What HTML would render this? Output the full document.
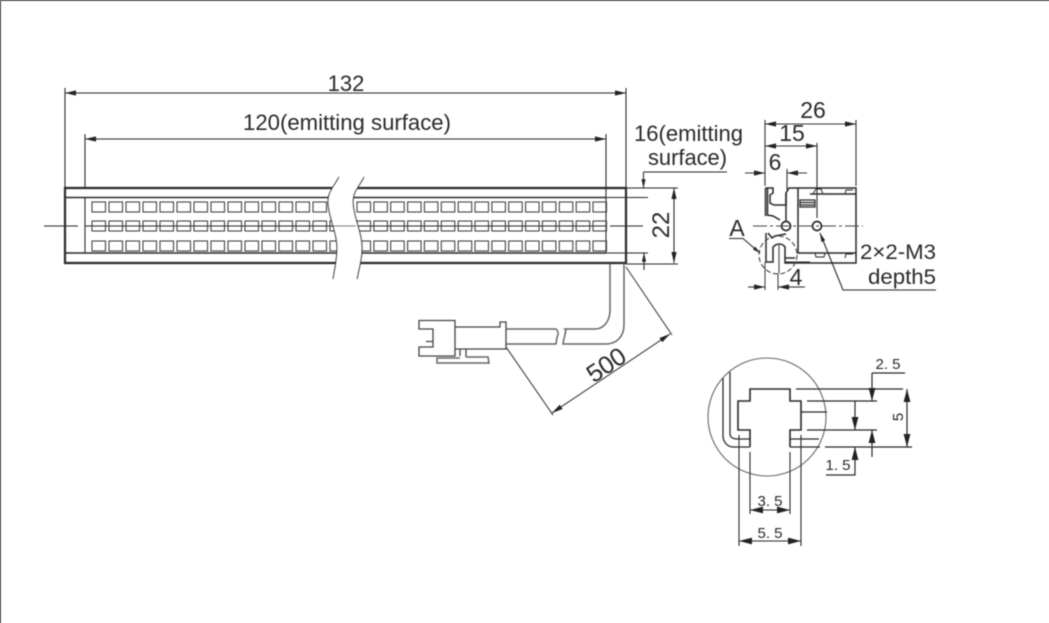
<!DOCTYPE html>
<html><head><meta charset="utf-8"><style>
html,body{margin:0;padding:0;background:#fff;width:1049px;height:623px;overflow:hidden}
svg{display:block}
text{font-family:"Liberation Sans",sans-serif;fill:#2b2b2b}
</style></head><body>
<svg width="1049" height="623" viewBox="0 0 1049 623" xmlns="http://www.w3.org/2000/svg">
<defs>
<filter id="b" x="-5%" y="-5%" width="110%" height="110%"><feGaussianBlur stdDeviation="0.5"/></filter>
<g id="ah"><path d="M0 0L-11 -2.6L-11 2.6Z" fill="#222" stroke="none"/></g>
<g id="ah2"><path d="M0 0L-13 -3.4L-13 3.4Z" fill="#222" stroke="none"/></g>
<g id="cell"><rect x="0" y="0" width="13.5" height="10"/></g>
<g id="rowL">
<use href="#cell" x="92"/><use href="#cell" x="109"/><use href="#cell" x="126"/><use href="#cell" x="143"/><use href="#cell" x="160"/><use href="#cell" x="177"/><use href="#cell" x="194"/><use href="#cell" x="211"/><use href="#cell" x="228"/><use href="#cell" x="245"/><use href="#cell" x="262"/><use href="#cell" x="279"/><use href="#cell" x="296"/><use href="#cell" x="313"/><use href="#cell" x="330"/>
</g>
<g id="rowR">
<use href="#cell" x="357"/><use href="#cell" x="373.9"/><use href="#cell" x="390.7"/><use href="#cell" x="407.6"/><use href="#cell" x="424.4"/><use href="#cell" x="441.3"/><use href="#cell" x="458.2"/><use href="#cell" x="475"/><use href="#cell" x="491.9"/><use href="#cell" x="508.7"/><use href="#cell" x="525.6"/><use href="#cell" x="542.4"/><use href="#cell" x="559.3"/><use href="#cell" x="576.2"/><use href="#cell" x="593"/>
</g>
</defs>
<path d="M0.6 623V0.6H1049" fill="none" stroke="#777" stroke-width="1.3"/>
<g filter="url(#b)" fill="none" stroke="#2a2a2a" stroke-width="1.1">

<!-- main bar -->
<path d="M65 188H626V263H65Z" stroke-width="2.2"/>
<path d="M65 197.500H606M65 253H606" stroke-width="1.500"/>
<path d="M606 188V253M85 197.500V253" stroke-width="1.100"/>
<g stroke-width="1.100" stroke="#444">
<use href="#rowL" y="202"/><use href="#rowL" y="221"/><use href="#rowL" y="241"/>
<use href="#rowR" y="202"/><use href="#rowR" y="221"/><use href="#rowR" y="241"/>
</g>
<path d="M44 226H78M85 226H606M610 226H643" stroke-width="1.100"/>
<path d="M339 177C333 188 328 192 328 202C328 216 337 232 337 248C337 260 335 268 333 279L357 279C359 268 362 260 362 248C362 232 353 216 353 202C353 192 358 188 364 177Z" fill="#fff" stroke="none"/>
<path d="M339 177C333 188 328 192 328 202C328 216 337 232 337 248C337 260 335 268 333 279"/>
<path d="M364 177C358 188 353 192 353 202C353 216 362 232 362 248C362 260 359 268 357 279"/>
<path d="M332 226H356"/>

<!-- dims 132 / 120 -->
<path d="M65 88V188M626 88V188M65 93H626M85 134V188M606 134V188M85 139H606"/>
<use href="#ah" transform="translate(65 93) rotate(180)"/><use href="#ah" transform="translate(626 93)"/>
<use href="#ah" transform="translate(85 139) rotate(180)"/><use href="#ah" transform="translate(606 139)"/>

<!-- dim 22 / 16 -->
<path d="M626 188H678M626 264H678M606 197.500H648M606 253H648M674 188V263M643.500 172V188M727 172H643.500M644 253V270"/>
<use href="#ah" transform="translate(674 188) rotate(-90)"/><use href="#ah" transform="translate(674 263) rotate(90)"/>
<use href="#ah" transform="translate(643.500 188) rotate(90) scale(.8)"/><use href="#ah" transform="translate(644 253) rotate(-90) scale(.8)"/>

<!-- end view -->
<path d="M765 120V186M856 120V186M817 143V218M787 169V190M765 124H856M765 146H817M745 173H765M787 173H807" stroke="#333"/>
<use href="#ah" transform="translate(765 124) rotate(180)"/><use href="#ah" transform="translate(856 124)"/>
<use href="#ah" transform="translate(765 146) rotate(180)"/><use href="#ah" transform="translate(817 146)"/>
<use href="#ah" transform="translate(765 173)"/><use href="#ah" transform="translate(787 173) rotate(180)"/>
<g stroke-width="1.500">
<path d="M765.500 188H773V193L770 195V203L774 205H786V193L789 188H856V263H785V258H795"/>
<path d="M765.500 188V216M767.500 188V216M767 215L773 216L780 220M766 233V262H773V247C777 243 782 243 785 247V258"/>
<path d="M768 233L772 238L775 236L786 234"/>
<path d="M786 193V222M798 188V253H856M810 194H856"/>
<path d="M800 200H815V207H800ZM800 202.500H815M800 205H815" stroke-width="1.200"/>
<path d="M813 194L816 189H821L823 194M815 253L816 257H824L825 253M845 194L846 190H853M845 258L846 254H853M785 262H810" stroke-width="1"/>
</g>
<path d="M765 262V290M779 245V273M778 273V290" stroke="#444"/>
<circle cx="786" cy="226" r="4.500" stroke-width="1.700"/>
<circle cx="817" cy="226" r="4.500" stroke-width="1.700"/>
<path d="M753 226H863" stroke-dasharray="14 3 3 3" stroke="#444"/>
<circle cx="778" cy="255" r="19" stroke-dasharray="5 2.500" stroke="#444"/>
<path d="M729 238.500H743L760 253"/>
<use href="#ah" transform="translate(760 253) rotate(40) scale(.7)"/>
<path d="M748 287H765M778 287H805"/>
<use href="#ah" transform="translate(765 287)"/><use href="#ah" transform="translate(778 287) rotate(180)"/>
<path d="M820 233L843 290H936"/>
<use href="#ah" transform="translate(820 233) rotate(248) scale(.8)"/>

<!-- cable -->
<path d="M610 264V310C610 322 603 329 595 329H565C567 331 564 336 563 344H606C616 344 624 337 624 325V264" stroke-width="1.500" stroke="#666"/>
<path d="M506 329H556C558 331 559 334 557 337L556 344H506" stroke-width="1.500" stroke="#666"/>
<path d="M419 320.500H455V356H419V347H433V329H419ZM455 327H500V322H506V349H455M460 349V356M466 349V357M426 341.500H433" stroke-width="1.300" stroke="#444"/>
<path d="M466 357H488L489 363H437V358H460" stroke="#666" stroke-width="1.500"/>
<path d="M626 267L672 335M506 347L553 415M552 413L670 334" stroke="#444"/>
<use href="#ah" transform="translate(552 413) rotate(146)"/><use href="#ah" transform="translate(670 334) rotate(-34)"/>

<!-- detail -->
<circle cx="767" cy="417" r="59" stroke="#666"/>
<path d="M750 447V430H738V401H750V389H790V401H801V430H790V447" stroke-width="1.600"/>
<path d="M801 412H827M790 439H819M790 447H820M723 378V436C723 441 727 447 733 447H750M730 372V434C730 437 733 439 737 439H750" stroke-width="1.300"/>
<path d="M796 389H903M807 401H877M807 430H877M825 447H912M907 389V447M872 373V401M872 430V457M872 373H905M855 401V430M855 447V475H826" stroke="#2a2a2a" stroke-width="1.200"/>
<use href="#ah2" transform="translate(907 389) rotate(-90)"/><use href="#ah2" transform="translate(907 447) rotate(90)"/>
<use href="#ah2" transform="translate(872 401) rotate(90)"/><use href="#ah2" transform="translate(872 430) rotate(-90)"/>
<use href="#ah2" transform="translate(855 430) rotate(90)"/><use href="#ah2" transform="translate(855 447) rotate(-90)"/>
<path d="M750 452V514M790 452V514M739 435V546M801 435V546M750 510H790M739 541H801"/>
<use href="#ah2" transform="translate(750 510) rotate(180)"/><use href="#ah2" transform="translate(790 510)"/>
<use href="#ah2" transform="translate(739 541) rotate(180)"/><use href="#ah2" transform="translate(801 541)"/>
</g>

<g filter="url(#b)">
<text x="346" y="91" font-size="22" text-anchor="middle">132</text>
<text x="243" y="130" font-size="22" textLength="208" lengthAdjust="spacingAndGlyphs">120(emitting surface)</text>
<text x="634" y="141" font-size="22" textLength="109" lengthAdjust="spacingAndGlyphs">16(emitting</text>
<text x="648" y="165" font-size="22" textLength="79" lengthAdjust="spacingAndGlyphs">surface)</text>
<text transform="translate(669 225) rotate(-90)" font-size="24" text-anchor="middle">22</text>
<text x="813" y="118" font-size="23" text-anchor="middle">26</text>
<text x="792" y="141" font-size="23" text-anchor="middle">15</text>
<text x="775" y="170" font-size="23" text-anchor="middle">6</text>
<text x="737" y="236" font-size="23" text-anchor="middle">A</text>
<text x="796" y="285" font-size="23" text-anchor="middle">4</text>
<text x="860" y="259" font-size="21" textLength="76" lengthAdjust="spacingAndGlyphs">2×2-M3</text>
<text x="868" y="284" font-size="21" textLength="68" lengthAdjust="spacingAndGlyphs">depth5</text>
<text transform="translate(611 372) rotate(-34)" font-size="25" text-anchor="middle">500</text>
<text x="888" y="369" font-size="15" text-anchor="middle">2. 5</text>
<text x="838" y="470" font-size="15" text-anchor="middle">1. 5</text>
<text x="770" y="506" font-size="15" text-anchor="middle">3. 5</text>
<text x="770" y="538" font-size="15" text-anchor="middle">5. 5</text>
<text transform="translate(903 417) rotate(-90)" font-size="15" text-anchor="middle">5</text>
</g>
</svg>
</body></html>
